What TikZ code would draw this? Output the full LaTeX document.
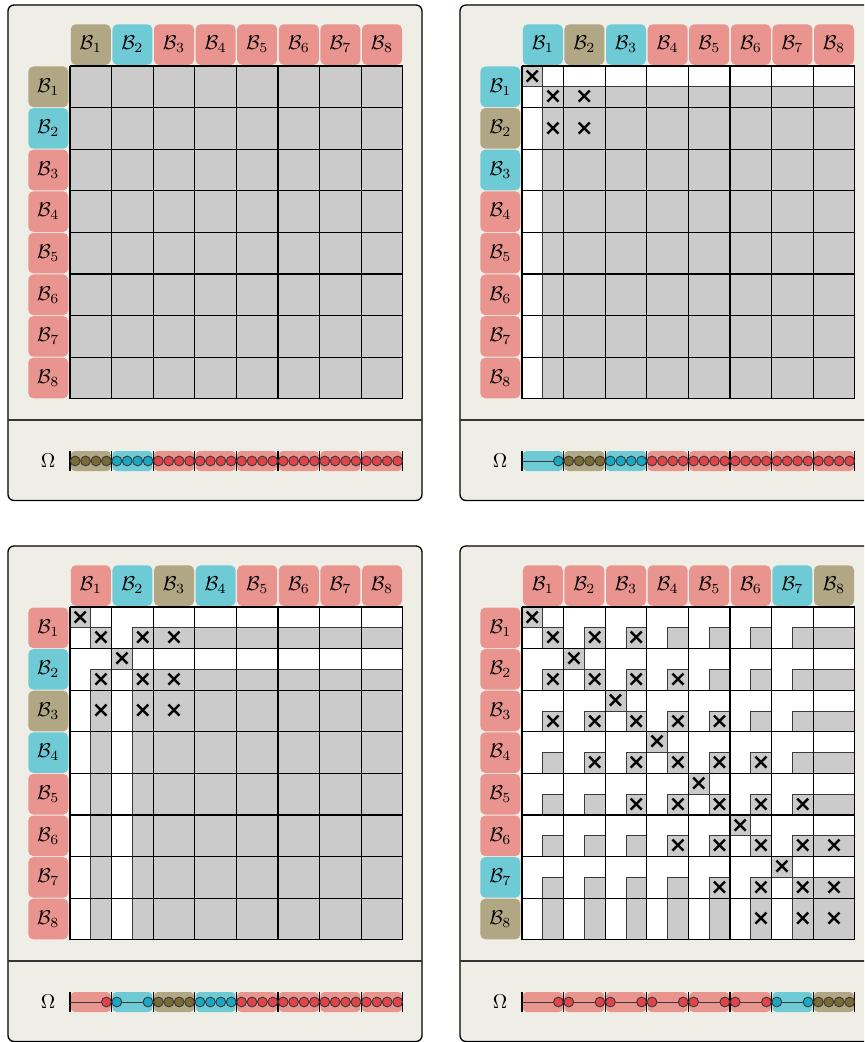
\documentclass[tikz,border=0pt]{standalone}
\usepackage{fontspec}
\newfontfamily\crossfont{DejaVu Sans}
\usetikzlibrary{calc}
\definecolor{bgpanel}{HTML}{EFEEE6}
\definecolor{cellgray}{HTML}{CBCBCB}
\definecolor{hdtan}{HTML}{B1A784}
\definecolor{hdcyan}{HTML}{6ECBD6}
\definecolor{hdred}{HTML}{EA948F}
\definecolor{dotan}{HTML}{7A6A33}
\definecolor{docyan}{HTML}{19A8C4}
\definecolor{dored}{HTML}{E0444A}
\definecolor{darkline}{HTML}{3A3A3A}
\tikzset{
  panelbox/.style={draw=black, line width=0.65pt, fill=bgpanel, rounded corners=3pt},
  divider/.style={draw=black!80, line width=0.65pt},
  hdr/.style={fill=#1, rounded corners=2.5pt, inner sep=0pt, minimum width=20pt, minimum height=20.3pt, font=\normalsize},
  graycell/.style={fill=cellgray, draw=darkline, line width=0.4pt},
  blockline/.style={draw=black, line width=0.6pt},
  crossmark/.style={inner sep=0pt, font=\crossfont\bfseries\fontsize{11}{11}\selectfont},
  omlabel/.style={inner sep=0pt, font=\normalsize},
  tickline/.style={draw=black, line width=0.55pt},
  segline/.style={draw=darkline, line width=0.5pt},
  dotc/.style={draw=darkline, line width=0.45pt, fill=#1},
}
\newcommand\drawpanel[6]{%
\begin{scope}[shift={(#2,#3)}]
  \draw[panelbox] (8,5) rectangle (422,500.5);
  \draw[divider] (8,420) -- (422,420);
  \foreach \c [count=\j] in {#4}{
    \node[hdr=hd\c] (#1h\j) at ({70+(\j-0.5)*41.6},44.6) {$\mathcal{B}_{\j}$};
    \node[hdr=hd\c] (#1r\j) at (48.3,{66+(\j-0.5)*41.6}) {$\mathcal{B}_{\j}$};
  }
  \fill[white] (70,66) rectangle (402.8,398.8);
  \foreach \i in {1,...,8}{
    \foreach \j in {1,...,8}{
      \pgfmathsetmacro\xa{70+(\j-1)*41.6}
      \pgfmathsetmacro\ya{66+(\i-1)*41.6}
      \pgfmathtruncatemacro\si{\i<=#5 ? 1 : 0}
      \pgfmathtruncatemacro\sj{\j<=#5 ? 1 : 0}
      \pgfmathtruncatemacro\hx{((\i<=#6) && (\j<=#6) && (abs(\i-\j)<=2)) ? 1 : 0}
      \pgfmathsetmacro\gx{\xa+\sj*20.8}
      \pgfmathsetmacro\gy{\ya+\si*20.8}
      \draw[graycell] (\gx,\gy) rectangle ({\xa+41.6},{\ya+41.6});
      \ifnum\hx=1
        \node[crossmark] (#1x\i-\j) at ({(\gx+\xa+41.6)/2},{(\gy+\ya+41.6)/2}) {×};
      \fi
      \ifnum\si=1 \ifnum\i=\j
        \draw[graycell] (\xa,\ya) rectangle ({\xa+20.8},{\ya+20.8});
        \node[crossmark] (#1d\i) at ({\xa+10.4},{\ya+10.4}) {×};
      \fi\fi
    }
  }
  \foreach \t in {0,...,8}{
    \draw[blockline] ({70+\t*41.6},66) -- ({70+\t*41.6},398.8);
    \draw[blockline] (70,{66+\t*41.6}) -- (402.8,{66+\t*41.6});
  }
  \node[omlabel] (#1om) at (48,461) {$\Omega$};
  \foreach \c [count=\j] in {#4}{
    \pgfmathsetmacro\xa{70+(\j-1)*41.6}
    \fill[hd\c, rounded corners=2pt] ({\xa+0.8},451) rectangle ({\xa+40.8},471);
  }
  \foreach \t in {0,...,8}{
    \draw[tickline] ({70+\t*41.6},451) -- ({70+\t*41.6},470.5);
  }
  \foreach \c [count=\j] in {#4}{
    \pgfmathsetmacro\xa{70+(\j-1)*41.6}
    \ifnum\j>#5
      \foreach \q in {0,...,3}{
        \draw[dotc=do\c] ({\xa+5.2+\q*10.4},461) circle[radius=2.45pt];
      }
    \else
      \ifnum\j=1
        \draw[segline] (\xa,461) -- ({\xa+36.4},461);
      \else
        \draw[segline] ({\xa+5.2},461) -- ({\xa+36.4},461);
        \draw[dotc=do\c] ({\xa+5.2},461) circle[radius=2.45pt];
      \fi
      \draw[dotc=do\c] ({\xa+36.4},461) circle[radius=2.45pt];
    \fi
  }
\end{scope}}
\begin{document}
\begin{tikzpicture}[x=0.5pt,y=-0.5pt]
  \useasboundingbox (0,0) rectangle (864,1042);
  \clip (0,0) rectangle (864,1042);
  \fill[white] (0,0) rectangle (864,1042);
  \drawpanel{A}{0}{0}{tan,cyan,red,red,red,red,red,red}{0}{0}
  \drawpanel{B}{452}{0}{cyan,tan,cyan,red,red,red,red,red}{1}{2}
  \drawpanel{C}{0}{541}{red,cyan,tan,cyan,red,red,red,red}{2}{3}
  \drawpanel{D}{452}{541}{red,red,red,red,red,red,cyan,tan}{7}{8}
\end{tikzpicture}
\end{document}
